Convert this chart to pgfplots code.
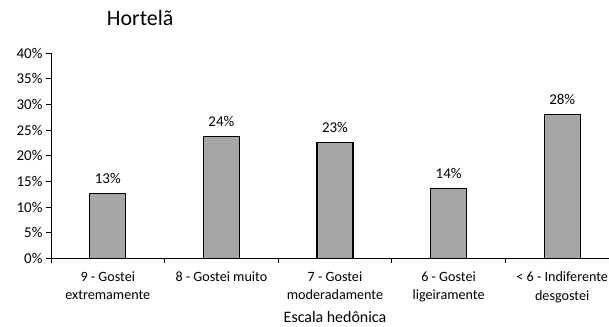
\documentclass[border=0pt]{standalone}
\usepackage{pgfplots}
\pgfplotsset{compat=1.18}
\usepackage{fontspec}
\setmainfont{Carlito}
\definecolor{barfill}{HTML}{A6A6A6}
\begin{document}
\begin{tikzpicture}
% the plot area runs a little past the right edge of the picture
\useasboundingbox (-51bp,-68.7bp) rectangle (558bp,258.3bp);
\clip (-51bp,-68.7bp) rectangle (558bp,258.3bp);
\begin{axis}[
  at={(0,0)}, anchor=south west,
  scale only axis, width=568bp, height=205bp,
  xmin=-0.5, xmax=4.5, ymin=0, ymax=40,
  axis x line*=bottom, axis y line*=left,
  axis line style={line width=1bp, black},
  xtick={0,1,2,3,4},
  xticklabels={9 - Gostei\\extremamente, 8 - Gostei muito, 7 - Gostei\\moderadamente, 6 - Gostei\\ligeiramente, < 6 - Indiferente\\desgostei},
  major x tick style={draw=none},
  minor xtick={-0.5,0.5,1.5,2.5,3.5,4.5},
  tick align=outside, major tick length=5bp, minor tick length=5bp,
  tick style={line width=1bp, black},
  ytick={0,5,...,40},
  yticklabel={\pgfmathprintnumber{\tick}\%},
  /pgf/number format/assume math mode=true,
  yticklabel style={font=\fontsize{15}{18}\selectfont},
  xticklabel style={align=center, anchor=north, yshift=-5bp, font=\fontsize{14.2}{18.5}\selectfont},
  xlabel={Escala hedônica},
  xlabel style={at={(axis description cs:0.5,-0.312)}, anchor=base, font=\fontsize{16}{19}\selectfont},
  title={Hortelã},
  title style={at={(axis description cs:0.157,1.107)}, anchor=base, font=\fontsize{22}{26}\selectfont},
  ybar, bar width=36bp,
  nodes near coords={\pgfmathprintnumber[fixed,precision=0]{\pgfplotspointmeta}\%},
  every node near coord/.append style={font=\fontsize{15}{18}\selectfont, yshift=6bp},
]
\addplot[fill=barfill, draw=black, line width=1.2bp]
  coordinates {(0,12.7) (1,23.7) (2,22.6) (3,13.6) (4,28.1)};
\end{axis}
\end{tikzpicture}
\end{document}
